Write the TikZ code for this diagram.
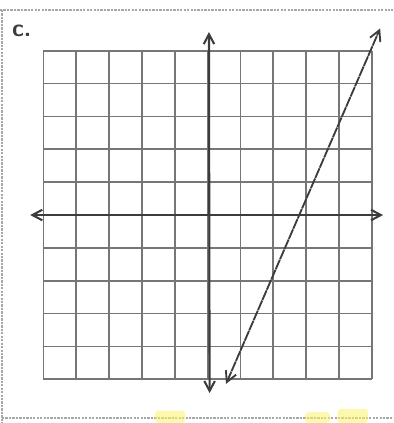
\documentclass[tikz,border=0pt]{standalone}
\usepackage{tikz}
\usetikzlibrary{arrows.meta, positioning}
\definecolor{inkGrid}{HTML}{767676}
\definecolor{inkAxis}{HTML}{3C3C3C}
\definecolor{inkEdge}{HTML}{A8A8A8}
\definecolor{markYellow}{HTML}{FAF36A}

\begin{document}
\begin{tikzpicture}[
    gridline/.style={draw=inkGrid, line width=1.5pt},
    axisline/.style={draw=inkAxis, line width=1.8pt,
                     {Straight Barb[length=0.3cm, width=0.32cm]}-{Straight Barb[length=0.3cm, width=0.32cm]}},
    graphline/.style={draw=inkAxis, line width=1.6pt, dash pattern=on 9pt off 0.6pt,
                      {Straight Barb[length=0.32cm, width=0.34cm]}-{Straight Barb[length=0.32cm, width=0.34cm]}},
    edgeline/.style={draw=inkEdge, line width=1pt, dash pattern=on 2pt off 1pt},
    highlight/.style={fill=markYellow, opacity=0.55, rounded corners=3pt},
  ]
    \useasboundingbox (-6.32,-6.33) rectangle (5.65,6.545);

    % worksheet edges
    \draw[edgeline] (-6.32,6.24) -- (5.65,6.24);
    \draw[edgeline] (-6.26,6.24) -- (-6.26,-6.33);
    \draw[edgeline] (-6.26,-6.18) -- (5.65,-6.18);
    \fill[highlight] (-1.6,-6.33) rectangle (-0.68,-5.95);
    \fill[highlight] (2.97,-6.33) rectangle (3.72,-6.0);
    \fill[highlight] (3.95,-6.33) rectangle (4.88,-5.9);

    % problem label
    \node[text=inkAxis, font=\sffamily\bfseries\fontsize{21}{25}\selectfont] (lbl) at (-5.66,5.62) {c.};

    % coordinate grid
    \draw[gridline] (-5,-5) grid (5,5);

    % axes
    \coordinate (xl) at (-5.4,0);
    \coordinate (xr) at (5.34,0);
    \coordinate (yt) at (0.04,5.57);
    \coordinate (yb) at (0.06,-5.42);
    \draw[axisline] (xl) -- (xr);
    \draw[axisline] (yb) -- (yt);

    % graphed line
    \coordinate (lb) at (0.56,-5.14);
    \coordinate (lt) at (5.25,5.68);
    \draw[graphline] (lb) -- (lt);
  \end{tikzpicture}
\end{document}
